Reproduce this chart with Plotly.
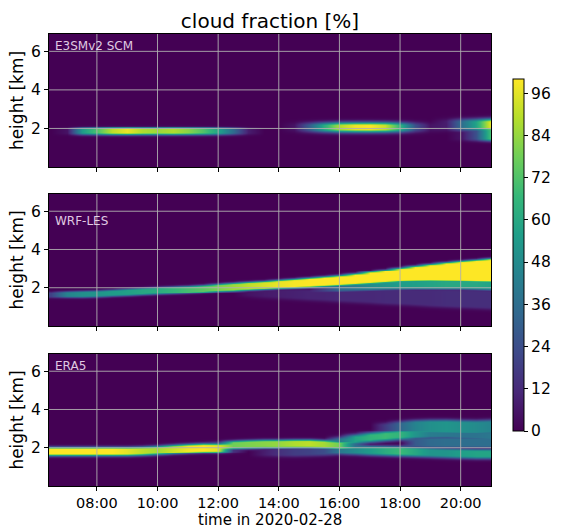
import numpy as np
import plotly.graph_objects as go

# ---------------- data ----------------
time_hours = [6.5, 7.0, 7.5, 8.0, 8.5, 9.0, 9.5, 10.0, 10.5, 11.0, 11.5, 12.0, 12.5, 13.0, 13.5,
              14.0, 14.5, 15.0, 15.5, 16.0, 16.5, 17.0, 17.5, 18.0, 18.5, 19.0, 19.5, 20.0, 20.5, 21.0]
tick_hours = [8, 10, 12, 14, 16, 18, 20]
tick_text = ["08:00", "10:00", "12:00", "14:00", "16:00", "18:00", "20:00"]
height_ticks = [2, 4, 6]
cbar_ticks = [0, 12, 24, 36, 48, 60, 72, 84, 96]
panel_names = ["E3SMv2 SCM", "WRF-LES", "ERA5"]

# E3SMv2 SCM : cloud layers (centre km, peak %)
e3sm_a_peak = [0, 5, 55, 72, 90, 97, 88, 85, 88, 82, 72, 58, 35, 8, 0,
               0, 0, 0, 0, 0, 0, 0, 0, 0, 0, 0, 0, 0, 0, 0]
e3sm_a_center = [1.87] * 30
e3sm_b_peak = [0, 0, 0, 0, 0, 0, 0, 0, 0, 0, 0, 0, 0, 0, 0,
               0, 5, 30, 62, 88, 98, 100, 92, 65, 25, 5, 0, 0, 0, 0]
e3sm_b_center = [2.08] * 30
e3sm_c_peak = [0] * 25 + [0, 8, 35, 58, 98]
e3sm_c_center = [2.2] * 30
e3sm_d_peak = [0] * 25 + [0, 0, 5, 25, 72]
e3sm_d_center = [1.72] * 30

# WRF-LES
wrf_main_center = [1.65, 1.67, 1.68, 1.70, 1.74, 1.78, 1.82, 1.86, 1.89, 1.92, 1.96, 2.02, 2.06, 2.11, 2.15,
                   2.20, 2.24, 2.29, 2.34, 2.39, 2.46, 2.54, 2.62, 2.70, 2.76, 2.81, 2.85, 2.88, 2.90, 2.93]
wrf_main_half = [0.08, 0.09, 0.10, 0.10, 0.10, 0.11, 0.11, 0.11, 0.11, 0.11, 0.11, 0.11, 0.12, 0.12, 0.12,
                 0.13, 0.14, 0.15, 0.16, 0.17, 0.19, 0.22, 0.25, 0.28, 0.32, 0.36, 0.41, 0.45, 0.49, 0.53]
wrf_main_peak = [20, 45, 50, 52, 55, 57, 60, 62, 66, 70, 74, 80, 85, 90, 94,
                 97, 99, 100, 100, 100, 100, 100, 100, 100, 100, 100, 100, 100, 100, 100]
wrf_shoulder_center = [2.0] * 18 + [2.08, 2.12, 2.16, 2.19, 2.22, 2.24, 2.25, 2.25, 2.25, 2.25, 2.23, 2.2]
wrf_shoulder_peak = [0] * 17 + [0, 20, 35, 42, 48, 52, 55, 56, 58, 60, 60, 60, 58]
wrf_tail_center = [1.75] * 13 + [1.75, 1.72, 1.70, 1.68, 1.66, 1.64, 1.62, 1.60, 1.58, 1.56, 1.55,
                                 1.53, 1.50, 1.48, 1.46, 1.44, 1.42]
wrf_tail_half = [0.1] * 13 + [0.10, 0.12, 0.14, 0.16, 0.18, 0.20, 0.22, 0.24, 0.26, 0.28, 0.30,
                              0.32, 0.34, 0.35, 0.36, 0.37, 0.38]
wrf_tail_peak = [0] * 12 + [0, 5, 7, 8, 9, 10, 10, 11, 11, 11, 12, 12, 12, 12, 13, 13, 13, 13]

# ERA5
era_l1_center = [1.82, 1.82, 1.82, 1.82, 1.82, 1.82, 1.84, 1.88, 1.93, 1.97, 2.0, 2.0, 1.98, 1.98, 1.98,
                 1.98, 1.98, 1.98, 1.98, 1.98, 1.98, 1.98, 1.98, 1.98, 1.98, 1.98, 1.98, 1.98, 1.98, 1.98]
era_l1_peak = [100, 100, 100, 100, 100, 96, 90, 86, 92, 98, 100, 96, 15, 0, 0,
               0, 0, 0, 0, 0, 0, 0, 0, 0, 0, 0, 0, 0, 0, 0]
era_l2_center = [2.12] * 11 + [2.12, 2.17, 2.20, 2.22, 2.22, 2.23, 2.23, 2.20, 2.15, 2.20] + [2.2] * 9
era_l2_peak = [0] * 11 + [30, 78, 80, 82, 84, 88, 90, 86, 78, 35] + [0] * 9
era_low_center = [1.8] * 14 + [1.80, 1.80, 1.80, 1.82, 1.85, 1.92, 1.90, 1.87, 1.85, 1.83, 1.80,
                               1.77, 1.74, 1.72, 1.70, 1.70]
era_low_peak = [0] * 14 + [8, 14, 18, 20, 24, 40, 48, 55, 62, 68, 60, 52, 52, 56, 58, 58]
era_up_center = [2.32] * 19 + [2.32, 2.45, 2.55, 2.62, 2.68, 2.72, 2.74, 2.74, 2.70, 2.66, 2.62]
era_up_peak = [0] * 19 + [40, 58, 65, 68, 65, 52, 42, 40, 38, 38, 40]
era_top_center = [2.95] * 22 + [2.95, 3.03, 3.08, 3.10, 3.10, 3.08, 3.07, 3.10]
era_top_peak = [0] * 22 + [18, 33, 45, 50, 52, 50, 48, 45]
era_mid_center = [2.3] * 30
era_mid_peak = [0] * 24 + [28, 34, 36, 36, 36, 36]

# ---------------- build grids ----------------
heights = np.round(np.arange(0.0, 6.9001, 0.05), 3)


def layer(center, half, peak, soft):
    c = np.broadcast_to(np.asarray(center, float), (30,))[None, :]
    a = np.broadcast_to(np.asarray(half, float), (30,))[None, :]
    p = np.broadcast_to(np.asarray(peak, float), (30,))[None, :]
    d = np.clip(np.abs(heights[:, None] - c) - a, 0, None)
    return p * np.exp(-(d / soft) ** 2)


def combine(*layers):
    return np.clip(np.maximum.reduce(layers), 0, 100)


z_e3sm = combine(layer(e3sm_a_center, 0.08, e3sm_a_peak, 0.12),
                 layer(e3sm_b_center, 0.10, e3sm_b_peak, 0.18),
                 layer(e3sm_c_center, 0.16, e3sm_c_peak, 0.18),
                 layer(e3sm_d_center, 0.22, e3sm_d_peak, 0.14))
z_wrf = combine(layer(wrf_main_center, wrf_main_half, wrf_main_peak, 0.10),
                layer(wrf_shoulder_center, 0.17, wrf_shoulder_peak, 0.14),
                layer(wrf_tail_center, wrf_tail_half, wrf_tail_peak, 0.16))
z_era = combine(layer(era_l1_center, 0.12, era_l1_peak, 0.13),
                layer(era_l2_center, 0.10, era_l2_peak, 0.12),
                layer(era_low_center, 0.13, era_low_peak, 0.15),
                layer(era_up_center, 0.10, era_up_peak, 0.16),
                layer(era_top_center, 0.24, era_top_peak, 0.16),
                layer(era_mid_center, 0.14, era_mid_peak, 0.16))
panels = [z_e3sm, z_wrf, z_era]

# ---------------- figure ----------------
W, H = 564, 528
L, R, T, B = 49, 62, 34, 42
BOT = H - B  # pixel row of the bottom of the lowest panel
PH = H - T - B
font = "DejaVu Sans"
fig = go.Figure()
domains = [[(BOT - 167) / PH, 1.0], [(BOT - 326) / PH, (BOT - 194) / PH], [0.0, (BOT - 354) / PH]]
label_y = [6.27, 5.47, 6.26]
axid = ["", "2", "3"]

for k, z in enumerate(panels):
    fig.add_trace(go.Heatmap(
        x=time_hours, y=heights, z=z, zmin=0, zmax=100, zsmooth="best",
        colorscale="Viridis", showscale=(k == 0),
        xaxis="x" + axid[k], yaxis="y" + axid[k],
        colorbar=dict(x=(525 - L) / (W - L - R), xanchor="left", xpad=0,
                      y=(BOT - 431) / PH, yanchor="bottom", ypad=0,
                      len=352 / PH, lenmode="fraction",
                      thickness=11, thicknessmode="pixels",
                      outlinewidth=1, outlinecolor="black",
                      tickvals=cbar_ticks, ticks="outside", ticklen=4,
                      tickcolor="black", tickfont=dict(size=15.5, family=font, color="black")),
        hoverinfo="skip"))

    xa = dict(domain=[0, 1], range=[6.42, 21.0], anchor="y" + axid[k],
              tickvals=tick_hours, ticktext=tick_text, ticks="outside", ticklen=3.5,
              tickcolor="black", showticklabels=(k == 2), showgrid=False, zeroline=False,
              showline=True, linecolor="black", linewidth=1, mirror=True,
              ticklabelstandoff=0,
              tickfont=dict(size=14.5, family=font, color="black"))
    if k < 2:
        xa["matches"] = "x3"
    ya = dict(domain=domains[k], range=[0, 6.9], anchor="x" + axid[k],
              tickvals=height_ticks, ticks="outside", ticklen=4, tickcolor="black",
              showgrid=False, zeroline=False, showline=True, linecolor="black",
              linewidth=1, mirror=True,
              tickfont=dict(size=15.5, family=font, color="black"),
              title=dict(text="height [km]", font=dict(size=17, family=font, color="black"),
                         standoff=3))
    fig.layout["xaxis" + axid[k]] = xa
    fig.layout["yaxis" + axid[k]] = ya

    for tv in tick_hours:
        fig.add_shape(type="line", xref="x" + axid[k], yref="y" + axid[k] + " domain",
                      x0=tv, x1=tv, y0=0, y1=1, layer="above",
                      line=dict(color="#b0b0b0", width=0.9))
    for tv in height_ticks:
        fig.add_shape(type="line", xref="x" + axid[k] + " domain", yref="y" + axid[k],
                      x0=0, x1=1, y0=tv, y1=tv, layer="above",
                      line=dict(color="#b0b0b0", width=0.9))
    fig.add_annotation(text=panel_names[k], xref="x" + axid[k] + " domain", yref="y" + axid[k],
                       x=0.008, y=label_y[k], xanchor="left", yanchor="middle", showarrow=False,
                       font=dict(size=12, family=font, color="rgba(255,240,255,0.85)"))

# x-axis title of the bottom panel
fig.add_annotation(text="time in 2020-02-28", xref="paper", yref="paper",
                   x=0.5, y=-(519.5 - BOT) / PH, xanchor="center", yanchor="middle",
                   showarrow=False, font=dict(size=15, family=font, color="black"))

fig.update_layout(
    width=W, height=H, margin=dict(l=L, r=R, t=T, b=B),
    paper_bgcolor="white", plot_bgcolor="white",
    font=dict(family=font, color="black"),
    title=dict(text="cloud fraction [%]", x=0.5, xref="paper", xanchor="center",
               y=1 - 21 / H, yref="container", yanchor="middle",
               font=dict(size=20, family=font, color="black")),
)

fig.write_html("out.html", config={"displayModeBar": False},
               post_script="document.body.style.margin='0px';document.body.style.overflow='hidden';")
